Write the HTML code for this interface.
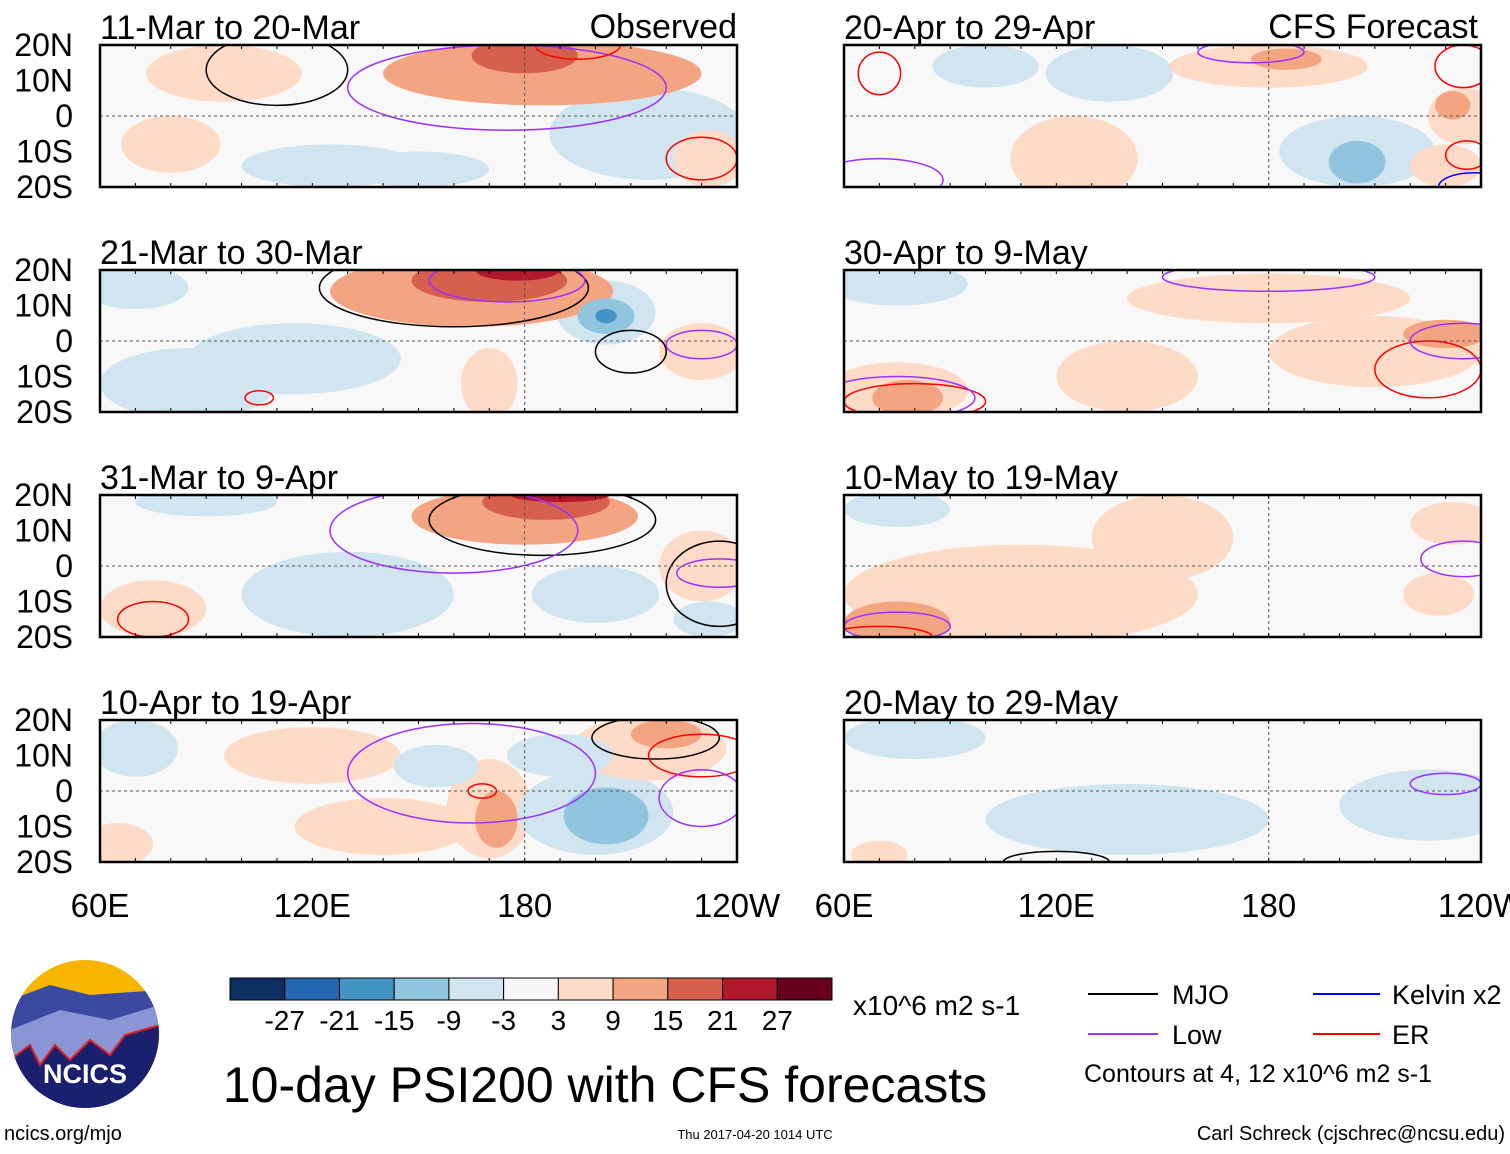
<!DOCTYPE html>
<html><head><meta charset="utf-8">
<style>
body{margin:0;background:#fff;width:1510px;height:1149px;overflow:hidden;font-family:"Liberation Sans Narrow","Liberation Sans",sans-serif;}
svg text{font-family:"Liberation Sans Narrow","Liberation Sans",sans-serif;}
</style></head>
<body>
<svg id="chart" width="1510" height="1149" xmlns="http://www.w3.org/2000/svg">
<g id="panels"></g>
<g id="foot">
  <g>
    <clipPath id="logoclip"><ellipse cx="85" cy="1034" rx="74" ry="74"/></clipPath>
    <g clip-path="url(#logoclip)">
      <rect x="10" y="960" width="150" height="150" fill="#f7b500"/>
      <path d="M10 1000 L50 985 L90 995 L160 990 L160 1110 L10 1110Z" fill="#3b4aa0"/>
      <path d="M10 1030 L60 1010 L110 1020 L160 1005 L160 1110 L10 1110Z" fill="#8a95d6"/>
      <path d="M10 1060 L30 1045 L40 1065 L55 1045 L70 1060 L90 1040 L110 1055 L125 1035 L160 1025 L160 1110 L10 1110Z" fill="#1a1f6e" stroke="#e02020" stroke-width="2"/>
    </g>
    <text x="85" y="1083" text-anchor="middle" font-size="27" font-weight="bold" fill="#fff">NCICS</text>
  </g>
  <text x="4" y="1140" font-size="20">ncics.org/mjo</text>
  <text x="755" y="1139" font-size="13" text-anchor="middle">Thu 2017-04-20 1014 UTC</text>
  <text x="1505" y="1140" font-size="20" text-anchor="end">Carl Schreck (cjschrec@ncsu.edu)</text>
  <text x="605" y="1102" font-size="50" text-anchor="middle">10-day PSI200 with CFS forecasts</text>
  <g id="cbar"></g>
  <text x="853" y="1015" font-size="28">x10^6 m2 s-1</text>
  <g>
    <line x1="1088" y1="994" x2="1158" y2="994" stroke="#000" stroke-width="2"/><text x="1172" y="1004" font-size="27">MJO</text>
    <line x1="1313" y1="994" x2="1380" y2="994" stroke="#0000ff" stroke-width="2"/><text x="1392" y="1004" font-size="27">Kelvin x2</text>
    <line x1="1088" y1="1034" x2="1158" y2="1034" stroke="#9b30ff" stroke-width="2"/><text x="1172" y="1044" font-size="27">Low</text>
    <line x1="1313" y1="1034" x2="1380" y2="1034" stroke="#ff0000" stroke-width="2"/><text x="1392" y="1044" font-size="27">ER</text>
    <text x="1084" y="1082" font-size="25">Contours at 4, 12 x10^6 m2 s-1</text>
  </g>
</g>
</svg>
<script>
const cbLevels=["-27","-21","-15","-9","-3","3","9","15","21","27"];
const cbColors=["#0b2f61","#2266ad","#4393c4","#91c4de","#d1e5f0","#f7f7f7","#fddbc7","#f3a581","#d6604d","#b2182b","#67001f"];
const panelTitles=["11-Mar to 20-Mar","21-Mar to 30-Mar","31-Mar to 9-Apr","10-Apr to 19-Apr","20-Apr to 29-Apr","30-Apr to 9-May","10-May to 19-May","20-May to 29-May"];
const latTicks=["20N","10N","0","10S","20S"];
const lonTicks=["60E","120E","180","120W"];
// blobs: [lonCenter, latCenter, lonHalfWidth(deg), latHalfWidth(deg), value]
const blobs=[
 [[95,12,22,8,3],[185,12,45,9,9],[180,17,15,5,15],[215,-5,28,13,-3],[125,-14,25,6,-3],[232,-12,10,8,3],[80,-8,14,8,3],[150,-15,20,5,-3]],
 [[165,14,40,10,9],[170,17,22,6,15],[178,20,12,3,21],[203,8,14,9,-3],[203,7,8,5,-9],[203,7,3,2,-15],[85,-12,25,10,-3],[115,-5,30,10,-3],[170,-12,8,10,3],[230,-3,12,8,3],[70,15,15,6,-3]],
 [[180,14,32,8,9],[186,18,18,5,15],[190,20,14,2,21],[130,-8,30,12,-3],[200,-8,18,8,-3],[75,-12,15,8,3],[230,0,12,10,3],[90,18,20,4,-3],[232,-15,10,5,-3]],
 [[70,12,12,8,-3],[170,-5,12,14,3],[172,-8,6,8,9],[200,-6,22,12,-3],[203,-7,12,8,-9],[215,12,22,9,3],[220,16,10,4,9],[120,10,25,8,3],[140,-10,25,8,3],[65,-15,10,6,3],[155,7,12,6,-3],[190,10,15,6,-3]],
 [[135,12,18,8,-3],[180,14,28,6,3],[185,16,10,3,9],[125,-12,18,12,3],[205,-10,22,10,-3],[205,-13,8,6,-9],[235,0,10,8,3],[232,3,5,4,9],[230,-14,10,6,3],[100,14,15,6,-3]],
 [[75,16,20,6,-3],[180,12,40,7,3],[210,-3,30,10,3],[230,2,12,4,9],[140,-10,20,10,3],[75,-14,20,8,3],[78,-16,10,5,9]],
 [[75,16,15,5,-3],[110,-8,50,14,3],[150,8,20,12,3],[232,12,12,6,3],[228,-8,10,6,3],[75,-16,15,6,9]],
 [[140,-8,40,10,-3],[225,-4,25,10,-3],[70,-18,8,4,3],[80,15,20,6,-3]]
];
// contours: [lonCenter, latCenter, lonRadius, latRadius, colorKey]
const contours=[
 [[110,13,20,10,"mjo"],[175,8,45,12,"low"],[195,20,12,4,"er"],[230,-12,10,6,"er"]],
 [[160,15,38,11,"mjo"],[175,17,22,6,"low"],[210,-3,10,6,"mjo"],[230,-1,10,4,"low"],[105,-16,4,2,"er"]],
 [[185,13,32,10,"mjo"],[160,10,35,12,"low"],[235,-5,15,12,"mjo"],[235,-2,12,4,"low"],[75,-15,10,5,"er"]],
 [[217,15,18,6,"mjo"],[165,5,35,14,"low"],[230,10,15,6,"er"],[230,-2,12,8,"low"],[168,0,4,2,"er"]],
 [[175,18,15,3,"low"],[70,12,6,6,"er"],[235,14,8,6,"er"],[236,-11,6,4,"er"],[70,-18,18,6,"low"],[238,-20,10,4,"kelvin"]],
 [[180,18,30,4,"low"],[225,-8,15,8,"er"],[235,0,15,5,"low"],[80,-17,20,5,"er"],[75,-16,22,6,"low"]],
 [[235,2,12,5,"low"],[75,-17,15,4,"low"],[70,-20,15,3,"er"]],
 [[230,2,10,3,"low"],[120,-20,15,3,"mjo"]]
];
const ckey={mjo:"#000",low:"#9b30ff",er:"#ff0000",kelvin:"#0000ff"};
const NS="http://www.w3.org/2000/svg";
function mk(t,a,p){const e=document.createElementNS(NS,t);for(const k in a)e.setAttribute(k,a[k]);p.appendChild(e);return e;}
function colorFor(v){const thr=[-27,-21,-15,-9,-3,3,9,15,21,27];let i=0;
  if(v<0){while(i<thr.length&&thr[i]<v)i++;}else{while(i<thr.length&&thr[i]<=v)i++;}
  return cbColors[i];}
const W=637,H=142,L=[100,844],T=[45,270,495,720];
function xS(lon,x0){return x0+(lon-60)/180*W;}
function yS(lat,y0){return y0+(20-lat)/40*H;}
const pg=document.getElementById('panels');
for(let p=0;p<8;p++){
  const col=p<4?0:1,row=p%4,x0=L[col],y0=T[row];
  const g=mk('g',{},pg);
  
  
  mk('clipPath',{id:'c'+p},g).appendChild(document.createElementNS(NS,'rect'));
  const cr=g.querySelector('clipPath rect');cr.setAttribute('x',x0);cr.setAttribute('y',y0);cr.setAttribute('width',W);cr.setAttribute('height',H);
  mk('rect',{x:x0,y:y0,width:W,height:H,fill:'#f8f8f8'},g);
  const inner=mk('g',{'clip-path':'url(#c'+p+')'},g);
  const sorted=blobs[p].slice().sort((a,b)=>Math.abs(a[4])-Math.abs(b[4]));
  for(const b of sorted){
    const e=mk('ellipse',{cx:xS(b[0],x0),cy:yS(b[1],y0),rx:b[2]/180*W,ry:b[3]/40*H,fill:colorFor(b[4])},inner);
    
    
  }
  for(const c of contours[p]){
    const e=mk('ellipse',{cx:xS(c[0],x0),cy:yS(c[1],y0),rx:c[2]/180*W,ry:c[3]/40*H,fill:'none',stroke:ckey[c[4]],'stroke-width':1.5},inner);
    
    
  }
  mk('line',{x1:x0,y1:yS(0,y0),x2:x0+W,y2:yS(0,y0),stroke:'#555','stroke-dasharray':'3,3','stroke-width':1},g);
  mk('line',{x1:xS(180,x0),y1:y0,x2:xS(180,x0),y2:y0+H,stroke:'#555','stroke-dasharray':'3,3','stroke-width':1},g);
  mk('rect',{x:x0,y:y0,width:W,height:H,fill:'none',stroke:'#000','stroke-width':2.5},g);
  for(let lon=60;lon<=240;lon+=10){const x=xS(lon,x0);mk('line',{x1:x,y1:y0,x2:x,y2:y0+4,stroke:'#000'},g);mk('line',{x1:x,y1:y0+H,x2:x,y2:y0+H-4,stroke:'#000'},g);}
  const tt=mk('text',{x:x0,y:y0-6,'font-size':34},g);tt.textContent=panelTitles[p];
  
  
  if(col===0){latTicks.forEach((t,i)=>{const e=mk('text',{x:73,y:y0+i*H/4+11,'font-size':32,'text-anchor':'end'},g);e.textContent=t;
    
    });}
}
const o=mk('text',{x:737,y:38,'font-size':34,'text-anchor':'end'},pg);o.textContent='Observed';


const f=mk('text',{x:1478,y:38,'font-size':34,'text-anchor':'end'},pg);f.textContent='CFS Forecast';


for(const x0 of L){lonTicks.forEach((t,i)=>{const e=mk('text',{x:x0+i*W/3,y:917,'font-size':33,'text-anchor':'middle'},pg);e.textContent=t;
  
  });}
const cb=document.getElementById('cbar');const bw=602/cbColors.length;
cbColors.forEach((c,i)=>{const r=mk('rect',{x:230+i*bw,y:978,width:bw,height:22,fill:c,stroke:'#000','stroke-width':1},cb);
  
  });
cbLevels.forEach((t,i)=>{const e=mk('text',{x:230+(i+1)*bw,y:1030,'font-size':28,'text-anchor':'middle'},cb);e.textContent=t;
  
  });
</script>
</body></html>
